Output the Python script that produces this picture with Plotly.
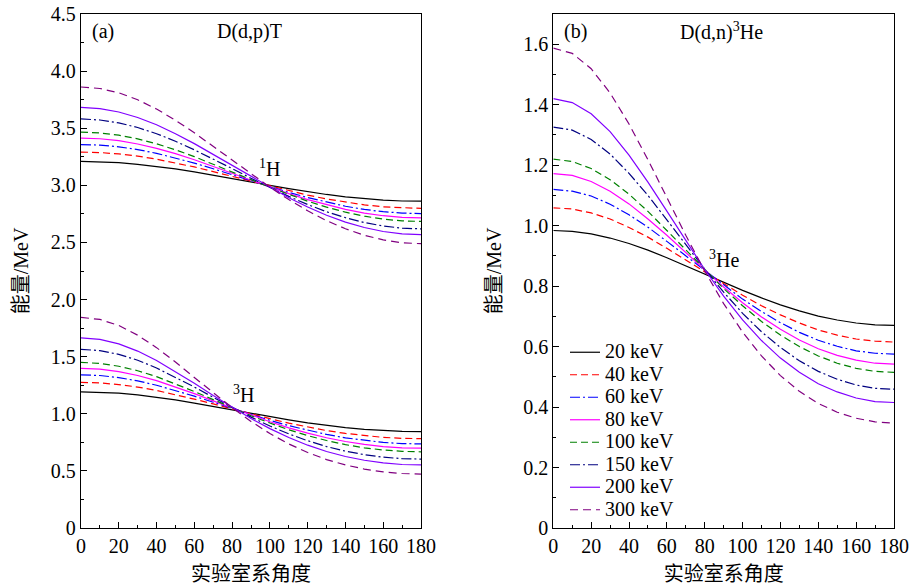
import plotly.graph_objects as go

angles = [0, 10, 20, 30, 40, 50, 60, 70, 80, 90, 100, 110, 120, 130, 140, 150, 160, 170, 180]
energy_labels = ["20 keV", "40 keV", "60 keV", "80 keV", "100 keV", "150 keV", "200 keV", "300 keV"]

# D(d,p)T : proton (1H) energies, MeV
h1_20 = [3.209, 3.206, 3.198, 3.184, 3.166, 3.144, 3.118, 3.090, 3.060, 3.030, 3.000, 2.971, 2.944, 2.920, 2.899, 2.883, 2.871, 2.863, 2.861]
h1_40 = [3.291, 3.287, 3.275, 3.256, 3.229, 3.197, 3.161, 3.120, 3.078, 3.035, 2.992, 2.952, 2.914, 2.881, 2.852, 2.829, 2.812, 2.802, 2.798]
h1_60 = [3.357, 3.352, 3.337, 3.313, 3.280, 3.240, 3.195, 3.145, 3.093, 3.040, 2.988, 2.938, 2.893, 2.852, 2.817, 2.789, 2.769, 2.757, 2.752]
h1_80 = [3.414, 3.408, 3.391, 3.362, 3.324, 3.278, 3.224, 3.167, 3.106, 3.045, 2.985, 2.928, 2.875, 2.829, 2.789, 2.757, 2.734, 2.720, 2.715]
h1_100 = [3.466, 3.459, 3.439, 3.407, 3.364, 3.311, 3.251, 3.186, 3.118, 3.050, 2.983, 2.919, 2.861, 2.809, 2.765, 2.730, 2.704, 2.689, 2.684]
h1_150 = [3.581, 3.572, 3.547, 3.506, 3.452, 3.386, 3.311, 3.231, 3.147, 3.062, 2.980, 2.903, 2.832, 2.769, 2.717, 2.674, 2.644, 2.625, 2.619]
h1_200 = [3.682, 3.672, 3.642, 3.594, 3.530, 3.452, 3.365, 3.270, 3.173, 3.075, 2.980, 2.891, 2.810, 2.738, 2.678, 2.631, 2.596, 2.575, 2.568]
h1_300 = [3.861, 3.848, 3.810, 3.749, 3.668, 3.570, 3.460, 3.342, 3.220, 3.100, 2.984, 2.875, 2.777, 2.691, 2.620, 2.563, 2.522, 2.497, 2.489]

# D(d,p)T : triton (3H) energies, MeV
h3_20 = [1.192, 1.189, 1.180, 1.165, 1.145, 1.121, 1.094, 1.064, 1.034, 1.003, 0.974, 0.946, 0.920, 0.898, 0.879, 0.864, 0.853, 0.846, 0.844]
h3_40 = [1.275, 1.270, 1.256, 1.234, 1.204, 1.169, 1.128, 1.086, 1.042, 0.998, 0.957, 0.918, 0.883, 0.853, 0.828, 0.808, 0.793, 0.785, 0.782]
h3_60 = [1.341, 1.335, 1.317, 1.288, 1.250, 1.205, 1.154, 1.101, 1.047, 0.993, 0.943, 0.896, 0.855, 0.819, 0.789, 0.766, 0.749, 0.739, 0.736]
h3_80 = [1.398, 1.391, 1.369, 1.335, 1.290, 1.236, 1.176, 1.113, 1.050, 0.988, 0.930, 0.877, 0.830, 0.790, 0.757, 0.732, 0.713, 0.702, 0.699]
h3_100 = [1.450, 1.441, 1.416, 1.377, 1.325, 1.263, 1.195, 1.124, 1.052, 0.983, 0.919, 0.860, 0.809, 0.766, 0.730, 0.702, 0.683, 0.671, 0.667]
h3_150 = [1.564, 1.553, 1.520, 1.469, 1.401, 1.321, 1.234, 1.144, 1.055, 0.971, 0.893, 0.824, 0.764, 0.713, 0.673, 0.642, 0.620, 0.607, 0.603]
h3_200 = [1.665, 1.651, 1.612, 1.549, 1.466, 1.370, 1.267, 1.160, 1.056, 0.958, 0.870, 0.792, 0.725, 0.670, 0.626, 0.593, 0.570, 0.556, 0.552]
h3_300 = [1.844, 1.826, 1.773, 1.688, 1.579, 1.453, 1.318, 1.183, 1.053, 0.933, 0.827, 0.736, 0.661, 0.599, 0.552, 0.516, 0.491, 0.477, 0.472]

# D(d,n)3He : 3He energies, MeV
he_20 = [0.984, 0.981, 0.973, 0.959, 0.941, 0.919, 0.894, 0.867, 0.840, 0.812, 0.786, 0.761, 0.738, 0.718, 0.701, 0.688, 0.678, 0.672, 0.670]
he_40 = [1.059, 1.055, 1.042, 1.022, 0.994, 0.962, 0.925, 0.886, 0.846, 0.807, 0.770, 0.735, 0.705, 0.678, 0.655, 0.638, 0.625, 0.618, 0.615]
he_60 = [1.120, 1.114, 1.098, 1.071, 1.036, 0.995, 0.948, 0.900, 0.850, 0.802, 0.757, 0.716, 0.679, 0.647, 0.621, 0.601, 0.586, 0.578, 0.575]
he_80 = [1.172, 1.166, 1.146, 1.114, 1.072, 1.022, 0.968, 0.910, 0.853, 0.797, 0.745, 0.698, 0.657, 0.622, 0.593, 0.571, 0.555, 0.545, 0.542]
he_100 = [1.220, 1.212, 1.189, 1.152, 1.104, 1.047, 0.984, 0.919, 0.854, 0.792, 0.735, 0.683, 0.638, 0.600, 0.569, 0.545, 0.528, 0.518, 0.515]
he_150 = [1.326, 1.316, 1.285, 1.237, 1.173, 1.100, 1.019, 0.937, 0.856, 0.780, 0.710, 0.649, 0.597, 0.553, 0.518, 0.492, 0.473, 0.462, 0.459]
he_200 = [1.420, 1.407, 1.370, 1.311, 1.233, 1.144, 1.048, 0.950, 0.855, 0.767, 0.688, 0.620, 0.562, 0.515, 0.477, 0.450, 0.430, 0.418, 0.415]
he_300 = [1.587, 1.570, 1.519, 1.439, 1.336, 1.218, 1.093, 0.968, 0.850, 0.742, 0.648, 0.569, 0.504, 0.452, 0.412, 0.383, 0.363, 0.351, 0.347]

x_ticks = [0, 20, 40, 60, 80, 100, 120, 140, 160, 180]
ya_ticks = [0, 0.5, 1.0, 1.5, 2.0, 2.5, 3.0, 3.5, 4.0, 4.5]
ya_labels = ["0", "0.5", "1.0", "1.5", "2.0", "2.5", "3.0", "3.5", "4.0", "4.5"]
yb_ticks = [0, 0.2, 0.4, 0.6, 0.8, 1.0, 1.2, 1.4, 1.6]
yb_labels = ["0", "0.2", "0.4", "0.6", "0.8", "1.0", "1.2", "1.4", "1.6"]

colors = ["#000000", "#ff0000", "#0000ff", "#ff00ff", "#008000", "#000080", "#8000ff", "#800080"]
dashes = ["solid", "7px,4px", "10px,3px,2px,3px", "solid", "7px,4px", "10px,3px,2px,3px", "solid", "8px,5px"]

h1_series = [h1_20, h1_40, h1_60, h1_80, h1_100, h1_150, h1_200, h1_300]
h3_series = [h3_20, h3_40, h3_60, h3_80, h3_100, h3_150, h3_200, h3_300]
he_series = [he_20, he_40, he_60, he_80, he_100, he_150, he_200, he_300]

FONT = "Liberation Serif, Noto Sans CJK SC, serif"

fig = go.Figure()
for i in range(8):
    ln = dict(color=colors[i], width=1.2, dash=dashes[i])
    fig.add_trace(go.Scatter(x=angles, y=h1_series[i], mode="lines", line=ln,
                             xaxis="x", yaxis="y", showlegend=False, name=energy_labels[i]))
    fig.add_trace(go.Scatter(x=angles, y=h3_series[i], mode="lines", line=ln,
                             xaxis="x", yaxis="y", showlegend=False, name=energy_labels[i]))
for i in range(8):
    ln = dict(color=colors[i], width=1.2, dash=dashes[i])
    fig.add_trace(go.Scatter(x=angles, y=he_series[i], mode="lines", line=ln,
                             xaxis="x2", yaxis="y2", showlegend=True,
                             name='<span style="font-size:20px">' + energy_labels[i] + "</span>"))

axis_common = dict(showline=True, linecolor="black", linewidth=1.3, mirror=True,
                   ticks="inside", ticklen=6, tickwidth=1, tickcolor="black",
                   showgrid=False, zeroline=False, automargin=False,
                   tickfont=dict(family=FONT, size=20, color="black"))

# plot area: left 81, right 894, top 14, bottom 528 (px)
ML, MR, MT, MB = 81, 17, 14, 57
PW = 911 - ML - MR
PH = 585 - MT - MB

title_font = dict(size=20, family=FONT, color="black")

fig.update_layout(
    width=911, height=585, autosize=False,
    margin=dict(l=ML, r=MR, t=MT, b=MB, pad=0),
    paper_bgcolor="white", plot_bgcolor="white",
    font=dict(family=FONT, color="black"),
    xaxis=dict(domain=[0, 340 / PW], range=[0, 180], tickvals=x_ticks, anchor="y",
               minor=dict(ticks="inside", ticklen=3, dtick=10, tick0=0, tickcolor="black"),
               title=dict(text="实验室系角度", font=title_font, standoff=12),
               **axis_common),
    yaxis=dict(domain=[0, 1], range=[0, 4.5], tickvals=ya_ticks, ticktext=ya_labels, anchor="x",
               minor=dict(ticks="inside", ticklen=3, dtick=0.25, tick0=0, tickcolor="black"),
               title=dict(text="能量/MeV", font=title_font, standoff=16),
               **axis_common),
    xaxis2=dict(domain=[(553.3 - ML) / PW, 1], range=[0, 180], tickvals=x_ticks, anchor="y2",
                minor=dict(ticks="inside", ticklen=3, dtick=10, tick0=0, tickcolor="black"),
                title=dict(text="实验室系角度", font=title_font, standoff=12),
                **axis_common),
    yaxis2=dict(domain=[0, 1], range=[0, 1.7], tickvals=yb_ticks, ticktext=yb_labels, anchor="x2",
                minor=dict(ticks="inside", ticklen=3, dtick=0.1, tick0=0, tickcolor="black"),
                title=dict(text="能量/MeV", font=title_font, standoff=16),
                **axis_common),
    legend=dict(x=(565 - ML) / PW, y=(528 - 336) / PH, xanchor="left", yanchor="top",
                bgcolor="rgba(0,0,0,0)", font=dict(family=FONT, size=15, color="black"),
                tracegroupgap=0),
)

ann_font = dict(family=FONT, size=20, color="black")
annotations = [
    dict(x=0.026, y=0.965, xref="x domain", yref="y domain", text="(a)", xanchor="left", yanchor="middle"),
    dict(x=0.497, y=0.965, xref="x domain", yref="y domain", text="D(d,p)T", xanchor="center", yanchor="middle"),
    dict(x=0.026, y=0.965, xref="x2 domain", yref="y2 domain", text="(b)", xanchor="left", yanchor="middle"),
    dict(x=0.495, y=0.965, xref="x2 domain", yref="y2 domain", text="D(d,n)<sup>3</sup>He", xanchor="center", yanchor="middle"),
    dict(x=100, y=3.15, xref="x", yref="y", text="<sup>1</sup>H", xanchor="center", yanchor="middle"),
    dict(x=86, y=1.17, xref="x", yref="y", text="<sup>3</sup>H", xanchor="center", yanchor="middle"),
    dict(x=90, y=0.89, xref="x2", yref="y2", text="<sup>3</sup>He", xanchor="center", yanchor="middle"),
]
for a in annotations:
    a["showarrow"] = False
    a["font"] = ann_font
fig.update_layout(annotations=annotations)

fig.write_html("out.html", config={"displayModeBar": False},
               post_script="document.body.style.margin='0px';document.body.style.padding='0px';")
